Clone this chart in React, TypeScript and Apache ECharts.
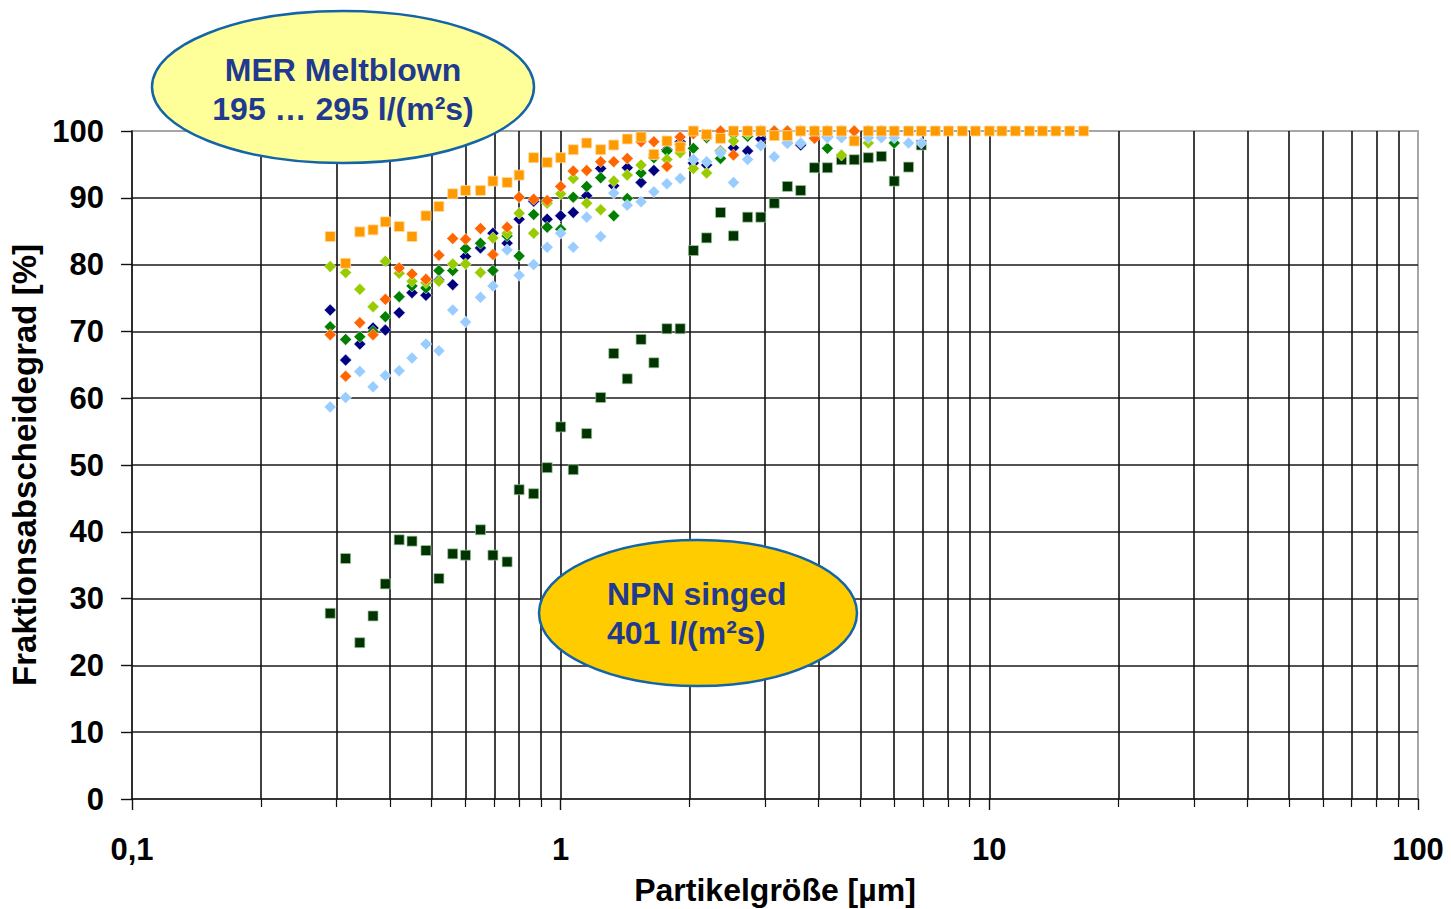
import React, { useEffect, useRef } from "react";
import * as echarts from "echarts";

// Particle sizes (µm) of the measurement channels
const sizes = [0.29, 0.315, 0.34, 0.365, 0.39, 0.42, 0.45, 0.485, 0.52, 0.56, 0.6, 0.65, 0.695, 0.75, 0.8, 0.865, 0.93, 1.0, 1.07, 1.15, 1.24, 1.33, 1.43, 1.54, 1.65, 1.77, 1.9, 2.04, 2.19, 2.36, 2.53, 2.73, 2.93, 3.15, 3.38, 3.63, 3.91, 4.19, 4.52, 4.84, 5.22, 5.6, 6.0, 6.48, 6.94, 7.48, 8.03, 8.65, 9.28, 10.0, 10.7, 11.5, 12.4, 13.3, 14.3, 15.4, 16.6];

// NPN singed (dark green squares)
const npnSinged = [27.8, 36.0, 23.4, 27.4, 32.2, 38.8, 38.6, 37.2, 33.0, 36.7, 36.5, 40.3, 36.5, 35.5, 46.3, 45.7, 49.6, 55.7, 49.3, 54.7, 60.1, 66.7, 62.9, 68.8, 65.3, 70.4, 70.4, 82.1, 84.0, 87.8, 84.3, 87.1, 87.1, 89.2, 91.7, 91.1, 94.5, 94.5, 95.7, 95.7, 96.0, 96.2, 92.5, 94.6, 97.9];

// MER Meltblown variants
const merNavy = [73.2, 65.7, 68.1, 70.5, 70.2, 72.8, 75.8, 75.4, 77.7, 77.0, 81.2, 82.5, 84.7, 83.2, 86.8, 89.5, 86.8, 87.3, 87.8, 90.3, 94.4, 91.8, 94.5, 92.3, 94.1, 97.2, 98.4, 95.2, 94.9, 97.0, 97.5, 97.0, 98.8, 100, 98.2, 97.9, 99.5, 99.1];
const merGreen = [70.7, 68.8, 69.2, 70.0, 72.2, 75.2, 76.8, 76.5, 79.1, 79.1, 82.4, 83.2, 79.1, 84.3, 81.3, 87.5, 85.6, 85.3, 90.1, 91.7, 93.0, 87.3, 89.9, 93.7, 96.0, 97.0, 98.0, 97.4, 99.0, 95.9, 99.5, 99.2, 100, 100, 100, 100, 100, 97.4, 100, 100, 100, 100, 98.2];
const merLightGreen = [79.7, 78.8, 76.3, 73.7, 80.5, 78.7, 77.5, 77.3, 77.5, 80.1, 80.1, 78.8, 84.0, 84.7, 87.7, 84.7, 89.2, 90.6, 92.9, 89.2, 88.2, 92.5, 93.4, 94.9, 96.5, 95.75, 96.75, 94.4, 93.7, 96.9, 98.5, 99.6, 100, 100, 100, 100, 100, 100, 96.4, 100, 98.2];
const merLightBlue = [58.7, 60.1, 64.0, 61.7, 63.4, 64.1, 66.0, 68.1, 67.1, 73.2, 71.4, 75.1, 76.8, 82.2, 78.4, 80.0, 82.6, 84.7, 82.6, 87.1, 84.2, 90.7, 88.9, 89.4, 90.9, 92.1, 92.9, 95.75, 95.4, 96.7, 92.3, 95.75, 97.8, 96.15, 98.2, 98.2, 99, 99, 99, 99, 99, 99, 99, 98.2, 98.2];
const merOrangeRed = [69.5, 63.3, 71.3, 69.5, 74.8, 79.5, 78.6, 77.8, 81.4, 83.9, 83.8, 85.4, 81.5, 85.6, 90.1, 89.8, 89.6, 91.7, 94.0, 94.1, 95.4, 95.4, 95.9, 98.4, 98.4, 94.7, 99.1, 99.6, 99.3, 100, 96.4, 100, 100, 100, 100, 100, 98.9, 100, 100, 100];
const merOrange = [84.2, 80.2, 84.9, 85.2, 86.4, 85.7, 84.2, 87.3, 88.7, 90.6, 91.1, 91.1, 92.5, 92.3, 93.4, 96.0, 95.3, 96.0, 97.2, 98.2, 97.2, 97.9, 98.8, 99.1, 96.5, 98.5, 97.6, 100, 99.5, 98.9, 100, 100, 100, 99.3, 99.3, 100, 100, 100, 100, 98.5, 100, 100, 100, 100, 100, 100, 100, 100, 100, 100, 100, 100, 100, 100, 100, 100, 100];

// Vertical grid positions (log axis)
const xGrid = [0.2, 0.3, 0.4, 0.5, 0.6, 0.7, 0.8, 0.9, 1, 2, 3, 4, 5, 6, 7, 8, 9, 10, 20, 30, 40, 50, 60, 70, 80, 90];

const FONT = "'Liberation Sans', Arial, Helvetica, sans-serif";

const pts = (vals: number[]) => vals.map((v, i) => [sizes[i], v]);

export default function App() {
  const ref = useRef<HTMLDivElement>(null);
  useEffect(() => {
    if (!ref.current) return;
    const chart = echarts.init(ref.current, null, { renderer: "svg" });
    const diamond = (name: string, color: string, vals: number[]) => ({
      name,
      type: "scatter",
      symbol: "diamond",
      symbolSize: 12,
      z: 3,
      itemStyle: { color, opacity: 1, borderColor: "rgba(255,255,255,0.5)", borderWidth: 1 },
      data: pts(vals),
    });
    const square = (name: string, color: string, vals: number[], border: string) => ({
      name,
      type: "scatter",
      symbol: "rect",
      symbolSize: 10,
      z: 3,
      itemStyle: { color, opacity: 1, borderColor: border, borderWidth: 1 },
      data: pts(vals),
    });
    const darkGreen: any = square("NPN singed", "#003300", npnSinged, "rgba(160,200,160,0.7)");
    darkGreen.markLine = {
      silent: true,
      z: 1,
      symbol: ["none", "none"],
      label: { show: false },
      lineStyle: { color: "#111", width: 1.6, type: "solid" },
      data: xGrid.map((v) => ({ xAxis: v })),
    };
    const txt = (text: string, x: number, y: number, align: string) => ({
      type: "text",
      z: 101,
      x,
      y,
      style: {
        text,
        fill: "#1f3a8f",
        font: `bold 32px ${FONT}`,
        align,
        verticalAlign: "middle",
        textAlign: align,
        textVerticalAlign: "middle",
      },
    });
    const option: any = {
      animation: false,
      backgroundColor: "#fff",
      grid: {
        left: 132,
        right: 33,
        top: 131,
        bottom: 110,
        containLabel: false,
        outerBoundsMode: "none",
        show: true,
        borderColor: "#a6a6a6",
        borderWidth: 2,
        backgroundColor: "transparent",
      },
      xAxis: {
        type: "log",
        logBase: 10,
        min: 0.1,
        max: 100,
        name: "Partikelgröße [µm]",
        nameLocation: "middle",
        nameGap: 75,
        nameTextStyle: { fontFamily: FONT, fontWeight: "bold", fontSize: 32, color: "#000" },
        axisLine: { show: true, onZero: false, lineStyle: { color: "#111", width: 1.6 } },
        axisTick: { show: true, inside: false, length: 11, lineStyle: { color: "#111", width: 1.4 } },
        minorTick: { show: true, splitNumber: 9, length: 8, lineStyle: { color: "#111", width: 1.2 } },
        splitLine: { show: false },
        minorSplitLine: { show: false },
        axisLabel: {
          margin: 35,
          fontFamily: FONT,
          fontWeight: "bold",
          fontSize: 31,
          color: "#000",
          formatter: (v: number) => (v < 0.5 ? "0,1" : String(Math.round(v))),
        },
      },
      yAxis: {
        type: "value",
        min: 0,
        max: 100,
        interval: 10,
        name: "Fraktionsabscheidegrad [%]",
        nameLocation: "middle",
        nameGap: 84,
        nameRotate: 90,
        nameTextStyle: { fontFamily: FONT, fontWeight: "bold", fontSize: 33, color: "#000" },
        axisLine: { show: true, lineStyle: { color: "#111", width: 1.6 } },
        axisTick: { show: true, inside: false, length: 11, lineStyle: { color: "#111", width: 1.4 } },
        splitLine: { show: true, showMaxLine: false, showMinLine: false, lineStyle: { color: "#1a1a1a", width: 1.6 } },
        axisLabel: { margin: 28, fontFamily: FONT, fontWeight: "bold", fontSize: 31, color: "#000" },
      },
      series: [
        darkGreen,
        diamond("MER 1", "#000080", merNavy),
        diamond("MER 2", "#008000", merGreen),
        diamond("MER 3", "#99cc00", merLightGreen),
        diamond("MER 4", "#99ccff", merLightBlue),
        diamond("MER 5", "#ff6600", merOrangeRed),
        square("MER 6", "#ff9900", merOrange, "rgba(255,220,160,0.8)"),
      ],
      graphic: [
        {
          type: "ellipse",
          z: 100,
          shape: { cx: 343, cy: 87, rx: 191, ry: 76 },
          style: { fill: "#ffff99", stroke: "#1465a8", lineWidth: 2.5 },
        },
        txt("MER Meltblown", 343, 70, "center"),
        txt("195 … 295 l/(m²s)", 343, 109, "center"),
        {
          type: "ellipse",
          z: 100,
          shape: { cx: 698, cy: 613, rx: 159, ry: 73 },
          style: { fill: "#ffcc00", stroke: "#1465a8", lineWidth: 2.5 },
        },
        txt("NPN singed", 607, 594, "left"),
        txt("401 l/(m²s)", 607, 633, "left"),
      ],
    };
    chart.setOption(option);
    return () => chart.dispose();
  }, []);
  return <div ref={ref} style={{ position: "fixed", left: 0, top: 0, width: 1451, height: 909 }} />;
}
